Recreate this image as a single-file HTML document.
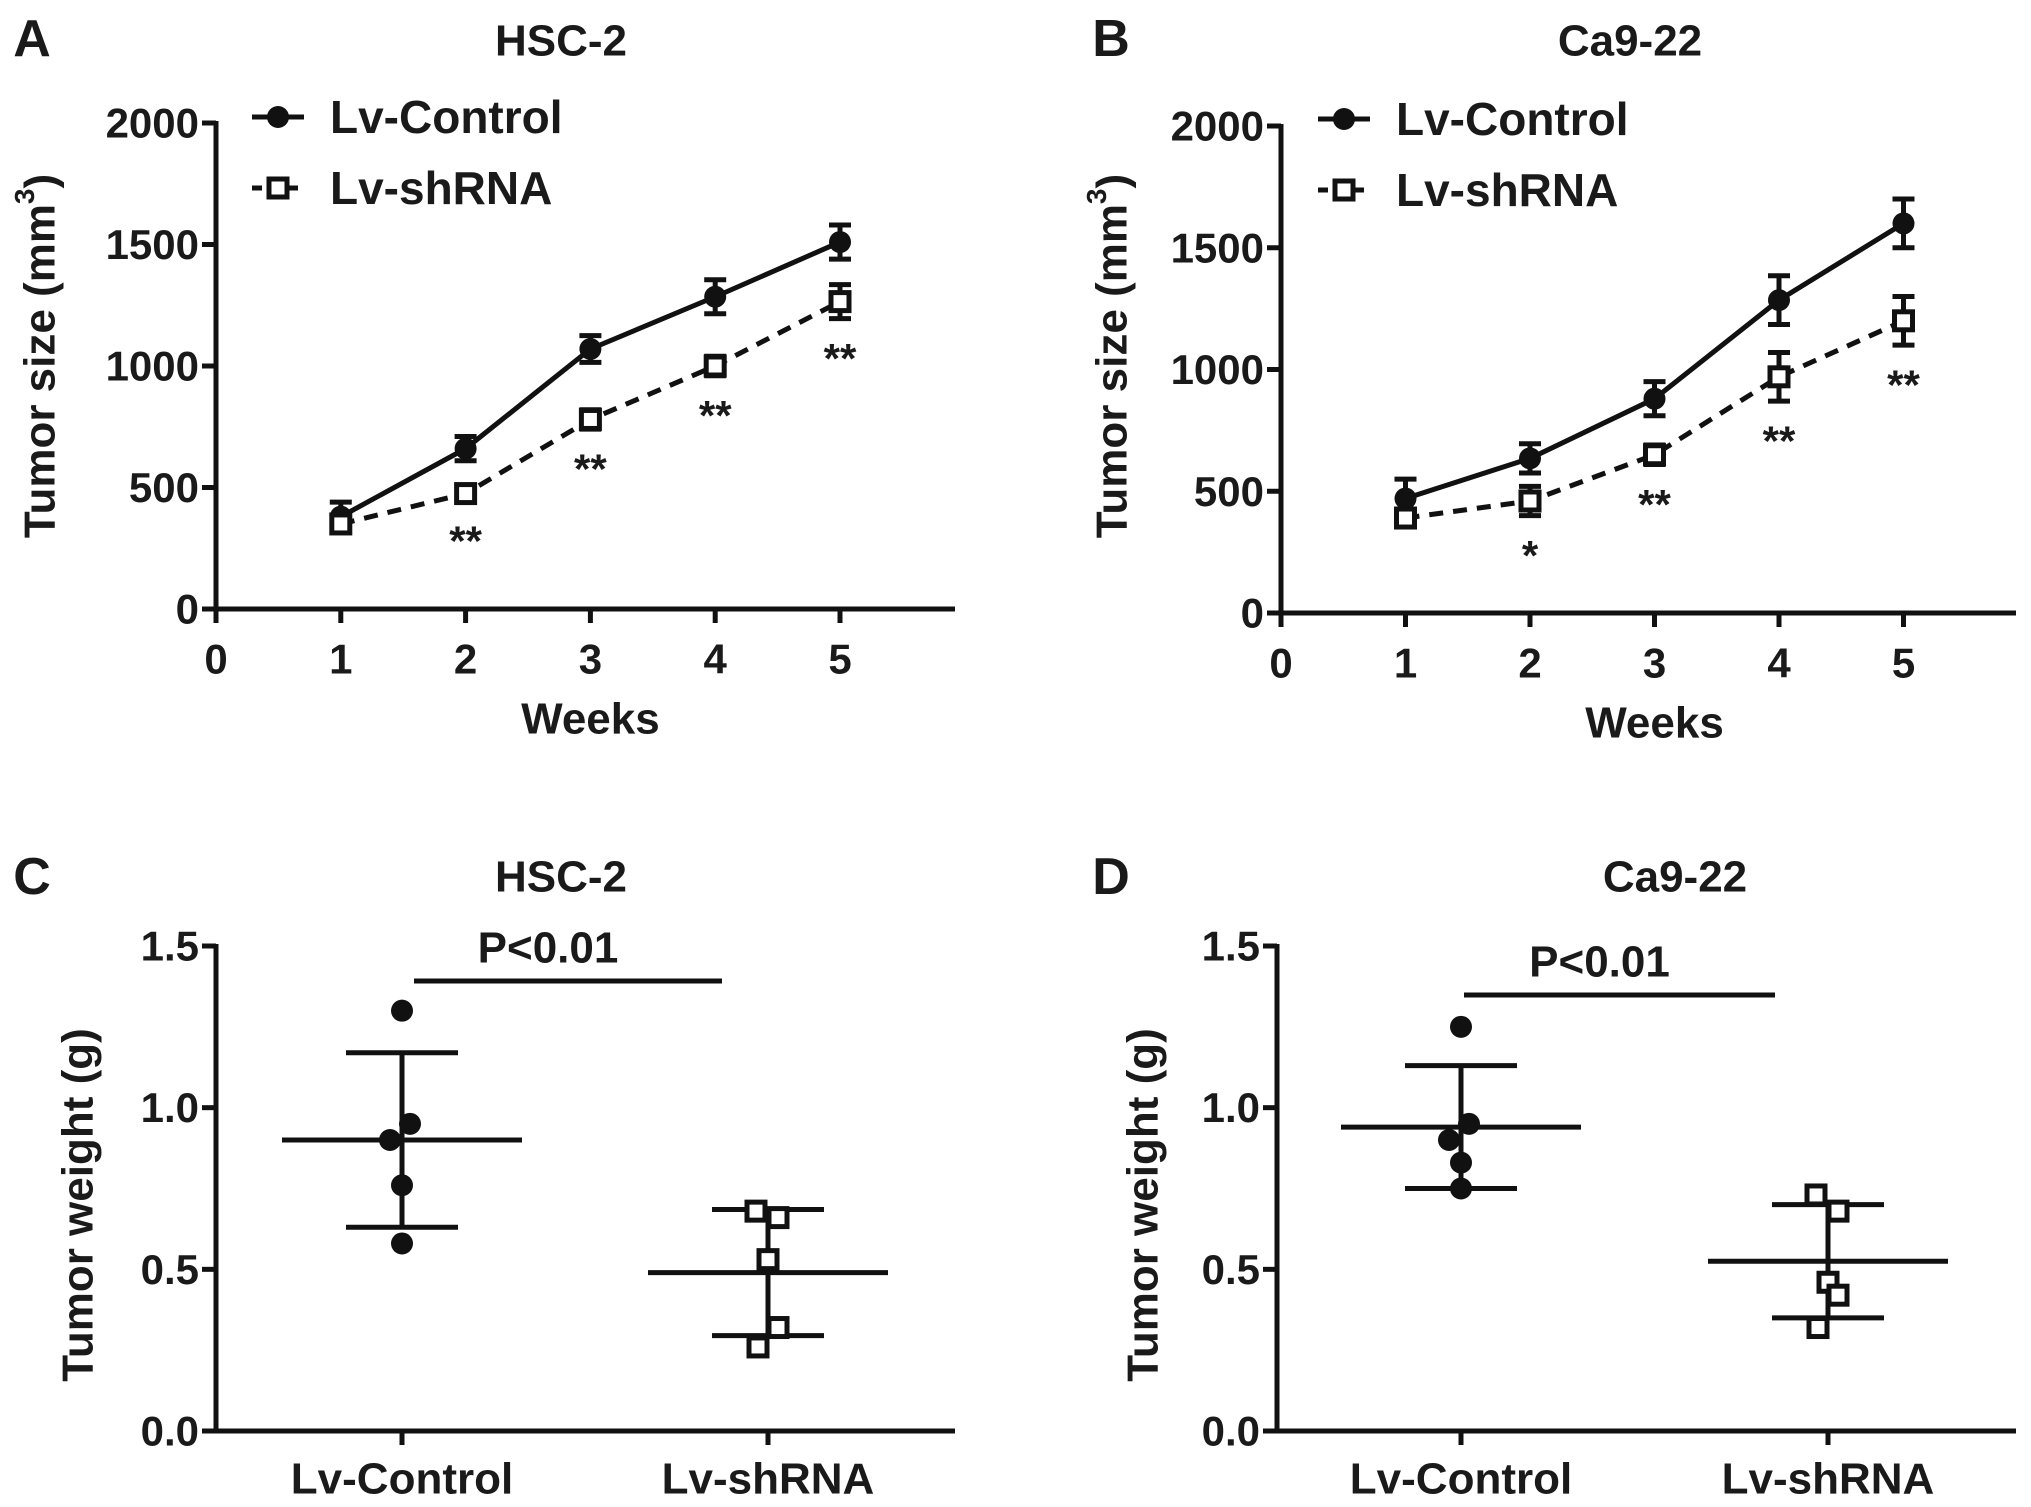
<!DOCTYPE html>
<html><head><meta charset="utf-8"><style>
html,body{margin:0;padding:0;background:#fff}
svg{display:block}
text{font-family:"Liberation Sans",Arial,sans-serif;font-weight:bold;fill:#1a1a1a}
</style></head><body>
<svg id="fig" width="2031" height="1507" viewBox="0 0 2031 1507" xmlns="http://www.w3.org/2000/svg"></svg>
<script>
// ---- Data: line charts (A, B) ----
const weeks = [1, 2, 3, 4, 5];
const xTicks = [0, 1, 2, 3, 4, 5];
const yTicksSize = [0, 500, 1000, 1500, 2000];
const aControl = [380, 660, 1070, 1285, 1510];
const aControlErr = [60, 50, 55, 70, 70];
const aShrna = [350, 475, 780, 1000, 1265];
const aShrnaErr = [30, 30, 40, 40, 70];
const aStars = ["", "**", "**", "**", "**"];
const bControl = [470, 635, 880, 1285, 1600];
const bControlErr = [80, 60, 70, 100, 100];
const bShrna = [390, 460, 650, 970, 1200];
const bShrnaErr = [30, 60, 40, 100, 100];
const bStars = ["", "*", "**", "**", "**"];
// ---- Data: scatter (C, D) ----
const groups = ["Lv-Control", "Lv-shRNA"];
const yTicksWeight = [0.0, 0.5, 1.0, 1.5];
const cControl = [1.30, 0.95, 0.90, 0.76, 0.58];
const cShrna = [0.68, 0.66, 0.53, 0.32, 0.26];
const cMean = [0.90, 0.49];
const cSD = [0.27, 0.195];
const dControl = [1.25, 0.95, 0.90, 0.83, 0.75];
const dShrna = [0.73, 0.68, 0.46, 0.42, 0.32];
const dMean = [0.94, 0.525];
const dSD = [0.19, 0.175];

const NS = "http://www.w3.org/2000/svg";
const svg = document.getElementById("fig");
function el(tag, attrs, parent) {
  const e = document.createElementNS(NS, tag);
  for (const k in attrs) e.setAttribute(k, attrs[k]);
  (parent || svg).appendChild(e);
  return e;
}
function txt(x, y, s, size, anchor, parent, rot) {
  const t = el("text", {x: x, y: y, "font-size": size, "text-anchor": anchor || "middle", "dominant-baseline": "central"}, parent);
  if (rot) t.setAttribute("transform", "rotate(-90 " + x + " " + y + ")");
  t.textContent = s;
  return t;
}
const SW = 5;

function linePanel(o) {
  const g = el("g", {});
  
  
  const X = v => o.x0 + v * o.step;
  const Y = v => o.y0 - v / 2000 * (o.y0 - o.yTop);
  const axY = el("line", {x1: o.x0, y1: o.yTop - 2, x2: o.x0, y2: o.y0 + 2, stroke: "#111", "stroke-width": SW}, g);
  
  
  const axX = el("line", {x1: o.x0 - 2, y1: o.y0, x2: o.xEnd, y2: o.y0, stroke: "#111", "stroke-width": SW}, g);
  
  
  yTicksSize.forEach(v => {
    el("line", {x1: o.x0 - 14, y1: Y(v), x2: o.x0, y2: Y(v), stroke: "#111", "stroke-width": SW}, g);
    const t = txt(o.x0 - 17, Y(v), String(v), 42, "end", g);
    
    
  });
  xTicks.forEach(v => {
    el("line", {x1: X(v), y1: o.y0, x2: X(v), y2: o.y0 + 14, stroke: "#111", "stroke-width": SW}, g);
    const t = txt(X(v), o.y0 + 50, String(v), 42, "middle", g);
    
    
  });
  const xt = txt(X(3.0), o.y0 + 110, "Weeks", 44, "middle", g);
  
  
  const yt = el("text", {x: o.yLabX, y: 356, "font-size": 44, "text-anchor": "middle", "dominant-baseline": "central", transform: "rotate(-90 " + o.yLabX + " 356)"}, g);
  yt.innerHTML = 'Tumor size (mm<tspan dy="-16" font-size="28">3</tspan><tspan dy="16">)</tspan>';
  
  
  const ti = txt(o.titleX, 41, o.title, 44, "middle", g);
  
  
  const lt = txt(o.letterX, 39, o.letter, 52, "middle", g);
  
  
  function series(vals, errs, dashed, open, nm) {
    const pts = vals.map((v, i) => X(weeks[i]) + "," + Y(v)).join(" ");
    const pl = el("polyline", {points: pts, fill: "none", stroke: "#111", "stroke-width": SW, "stroke-dasharray": dashed ? "14 10" : "none"}, g);
    
    
    vals.forEach((v, i) => {
      const cx = X(weeks[i]);
      const eb = el("path", {d: "M" + cx + " " + Y(v + errs[i]) + "V" + Y(v - errs[i]) + "M" + (cx - 11) + " " + Y(v + errs[i]) + "h22M" + (cx - 11) + " " + Y(v - errs[i]) + "h22", stroke: "#111", "stroke-width": SW, fill: "none"}, g);
      
      
      let m;
      if (open) m = el("rect", {x: cx - 9, y: Y(v) - 9, width: 18, height: 18, fill: "#fff", stroke: "#111", "stroke-width": 5}, g);
      else m = el("circle", {cx: cx, cy: Y(v), r: 11, fill: "#111"}, g);
      
      
    });
  }
  series(o.ctrl, o.ctrlErr, false, false, "lv-control");
  series(o.sh, o.shErr, true, true, "lv-shrna");
  o.stars.forEach((s, i) => {
    if (!s) return;
    const st = txt(X(weeks[i]), Y(o.sh[i] - o.shErr[i]) + 40, s, 42, "middle", g);
    
    
  });
  const lg = el("g", {}, g);
  
  
  el("line", {x1: o.legX, y1: o.legY, x2: o.legX + 52, y2: o.legY, stroke: "#111", "stroke-width": SW}, lg);
  el("circle", {cx: o.legX + 26, cy: o.legY, r: 11, fill: "#111"}, lg);
  const l1 = txt(o.legX + 78, o.legY, "Lv-Control", 46, "start", lg);
  
  
  el("line", {x1: o.legX, y1: o.legY + 71, x2: o.legX + 52, y2: o.legY + 71, stroke: "#111", "stroke-width": SW, "stroke-dasharray": "10 8"}, lg);
  el("rect", {x: o.legX + 17, y: o.legY + 62, width: 18, height: 18, fill: "#fff", stroke: "#111", "stroke-width": 5}, lg);
  const l2 = txt(o.legX + 78, o.legY + 71, "Lv-shRNA", 46, "start", lg);
  
  
}

linePanel({name: "panel-a-chart", x0: 216, step: 124.8, xEnd: 955, y0: 609, yTop: 123, yLabX: 40, titleX: 561, letterX: 32, title: "HSC-2", letter: "A",
  ctrl: aControl, ctrlErr: aControlErr, sh: aShrna, shErr: aShrnaErr, stars: aStars, legX: 252, legY: 117});
linePanel({name: "panel-b-chart", x0: 1281, step: 124.5, xEnd: 2016, y0: 613, yTop: 126, yLabX: 1112, titleX: 1630, letterX: 1111, title: "Ca9-22", letter: "B",
  ctrl: bControl, ctrlErr: bControlErr, sh: bShrna, shErr: bShrnaErr, stars: bStars, legX: 1318, legY: 119});

const jitter = [[0, 8, -12, 0, 0], [-12, 10, 0, 10, -10]];
function scatterPanel(o) {
  const g = el("g", {});
  
  
  const Y = v => o.y0 - v / 1.5 * (o.y0 - o.yTop);
  const X = i => o.cx[i];
  const axY = el("line", {x1: o.x0, y1: o.yTop - 2, x2: o.x0, y2: o.y0 + 2, stroke: "#111", "stroke-width": SW}, g);
  
  
  const axX = el("line", {x1: o.x0 - 2, y1: o.y0, x2: o.xEnd, y2: o.y0, stroke: "#111", "stroke-width": SW}, g);
  
  
  yTicksWeight.forEach(v => {
    el("line", {x1: o.x0 - 14, y1: Y(v), x2: o.x0, y2: Y(v), stroke: "#111", "stroke-width": SW}, g);
    const t = txt(o.x0 - 17, Y(v), v.toFixed(1), 42, "end", g);
    
    
  });
  groups.forEach((gname, i) => {
    el("line", {x1: X(i), y1: o.y0, x2: X(i), y2: o.y0 + 14, stroke: "#111", "stroke-width": SW}, g);
    const t = txt(X(i), o.y0 + 48, gname, 44, "middle", g);
    
    
  });
  const yt = txt(o.yLabX, 1205, "Tumor weight (g)", 44, "middle", g, true);
  
  
  const ti = txt(o.titleX, 877, o.title, 44, "middle", g);
  
  
  const lt = txt(o.letterX, 877, o.letter, 52, "middle", g);
  
  
  [o.ctrl, o.sh].forEach((vals, gi) => {
    const cx = X(gi), m = o.mean[gi], sd = o.sd[gi];
    const eb = el("path", {d: "M" + (cx - 120) + " " + Y(m) + "h240M" + cx + " " + Y(m + sd) + "V" + Y(m - sd) + "M" + (cx - 56) + " " + Y(m + sd) + "h112M" + (cx - 56) + " " + Y(m - sd) + "h112", stroke: "#111", "stroke-width": SW, fill: "none"}, g);
    
    
    vals.forEach((v, i) => {
      const px = cx + jitter[gi][i];
      let mk;
      if (gi === 0) mk = el("circle", {cx: px, cy: Y(v), r: 11, fill: "#111"}, g);
      else mk = el("rect", {x: px - 9, y: Y(v) - 9, width: 18, height: 18, fill: "#fff", stroke: "#111", "stroke-width": 5}, g);
      
      
    });
  });
  const br = el("line", {x1: o.brX1, y1: o.brY, x2: o.brX2, y2: o.brY, stroke: "#111", "stroke-width": SW}, g);
  
  
  const p = txt((o.brX1 + o.brX2) / 2 - 20, o.brY - 33, "P<0.01", 44, "middle", g);
  
  
}
scatterPanel({name: "panel-c-chart", x0: 216, xEnd: 955, y0: 1431, yTop: 946, cx: [402, 768], yLabX: 78, titleX: 561, letterX: 32, title: "HSC-2", letter: "C",
  ctrl: cControl, sh: cShrna, mean: cMean, sd: cSD, brX1: 414, brX2: 722, brY: 981});
scatterPanel({name: "panel-d-chart", x0: 1277, xEnd: 2016, y0: 1431, yTop: 946, cx: [1461, 1828], yLabX: 1143, titleX: 1675, letterX: 1111, title: "Ca9-22", letter: "D",
  ctrl: dControl, sh: dShrna, mean: dMean, sd: dSD, brX1: 1464, brX2: 1775, brY: 995});
</script>
</body></html>
